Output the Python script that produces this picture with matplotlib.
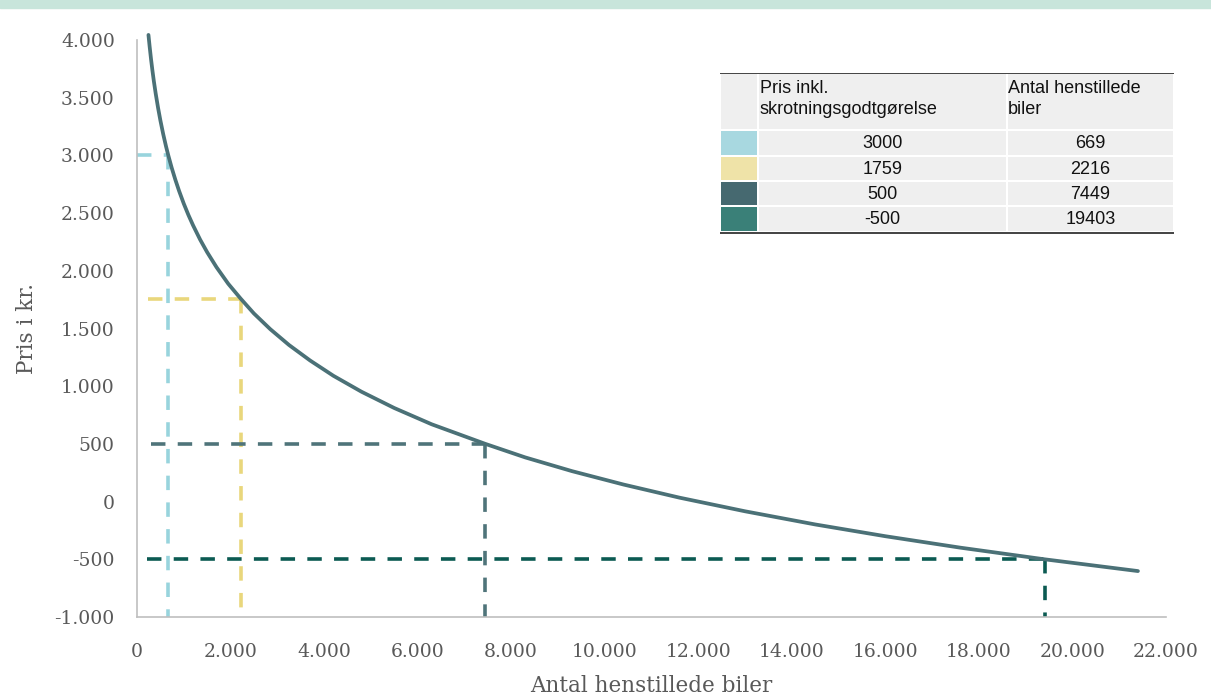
import matplotlib.pyplot as plt
from matplotlib.patches import Rectangle

# Demand curve: antal biler vs. pris (kr.)
curve_x = [245, 270, 300, 330, 360, 400, 450, 500, 560, 620, 669, 740, 820, 900,
           1000, 1100, 1200, 1350, 1500, 1700, 1950, 2216, 2500, 2850, 3250, 3700,
           4200, 4800, 5500, 6300, 7449, 8300, 9300, 10400, 11600, 13000, 14500,
           16000, 17600, 19403, 21400]
curve_y = [4044, 3944, 3834, 3735, 3644, 3535, 3413, 3303, 3185, 3079, 3000, 2895, 2789, 2692,
           2582, 2483, 2393, 2270, 2161, 2031, 1888, 1759, 1630, 1494, 1357, 1223,
           1090, 952, 811, 670, 500, 383, 264, 148, 34, -84, -198,
           -300, -399, -500, -602]

# Marked points (price incl. scrapping premium, number of cars)
prices = [3000, 1759, 500, -500]
counts = [669, 2216, 7449, 19403]
h_start = [0, 235, 300, 215]
line_colors = ['#98d4dd', '#e9d77c', '#4f747a', '#0b5a52']
swatch_colors = ['#a8d8e0', '#efe3a8', '#466970', '#3a8078']

x_ticks = list(range(0, 22001, 2000))
y_ticks = list(range(-1000, 4001, 500))

def dotted(v):
    return f"{v:,}".replace(',', '.')

fig = plt.figure(figsize=(12.11, 6.96), dpi=100)
fig.patches.append(Rectangle((0, 1 - 8 / 696), 1, 8 / 696, transform=fig.transFigure,
                             color='#c8e5db', zorder=0))

ax = fig.add_axes([137 / 1211, (696 - 617) / 696, (1166 - 137) / 1211, (617 - 40) / 696])
ax.set_xlim(0, 22000)
ax.set_ylim(-1000, 4000)

for p, c, s, col in zip(prices, counts, h_start, line_colors):
    ax.plot([s, c], [p, p], color=col, lw=2.6, dashes=(4.0, 3.4),
            dash_capstyle='butt', clip_on=False, zorder=2)
    ax.plot([c, c], [p, -1000], color=col, lw=2.6, dashes=(4.0, 3.4),
            dash_capstyle='butt', clip_on=False, zorder=2)

ax.plot(curve_x, curve_y, color='#4b7177', lw=2.7, clip_on=False, zorder=3,
        solid_capstyle='round', solid_joinstyle='round')

for side in ['top', 'right']:
    ax.spines[side].set_visible(False)
for side in ['left', 'bottom']:
    ax.spines[side].set_color('#bfbfbf')
    ax.spines[side].set_linewidth(1.2)

serif = 'DejaVu Serif'
ax.set_xticks(x_ticks)
ax.set_xticklabels([dotted(v) for v in x_ticks], fontfamily=serif, fontsize=13.5,
                   color='#595959')
ax.set_yticks(y_ticks)
ax.set_yticklabels([dotted(v) for v in y_ticks], fontfamily=serif, fontsize=13.5,
                   color='#595959')
ax.tick_params(axis='x', length=0, pad=19)
ax.tick_params(axis='y', length=0, pad=16)
ax.set_xlabel('Antal henstillede biler', fontfamily=serif, fontsize=15.5, color='#595959',
              labelpad=10)
ax.set_ylabel('Pris i kr.', fontfamily=serif, fontsize=15.5, color='#595959', labelpad=12)

# Table in the upper right corner
tab = fig.add_axes([720 / 1211, (696 - 234) / 696, (1174 - 720) / 1211, (234 - 73) / 696])
tab.set_xlim(720, 1174)
tab.set_ylim(234, 73)
tab.axis('off')
col_edges = [720, 758, 1007, 1174]
row_edges = [73, 130, 156, 181, 206, 232]
for r in range(5):
    for ci in range(3):
        x0, x1 = col_edges[ci], col_edges[ci + 1]
        y0, y1 = row_edges[r], row_edges[r + 1]
        fc = '#efefef'
        if r > 0 and ci == 0:
            fc = swatch_colors[r - 1]
        tab.add_patch(Rectangle((x0 + 1, y0 + 1), x1 - x0 - 2, y1 - y0 - 2, facecolor=fc,
                                edgecolor='none'))
tab.plot([720, 1174], [73, 73], color='#222222', lw=1.2)
tab.plot([720, 1174], [233.5, 233.5], color='#222222', lw=1.2)

sans = 'Liberation Sans'
tab.text(760, 99, 'Pris inkl.\nskrotningsgodtgørelse', ha='left', va='center',
         fontfamily=sans, fontsize=13, color='#111111', linespacing=1.35)
tab.text(1008, 99, 'Antal henstillede\nbiler', ha='left', va='center',
         fontfamily=sans, fontsize=13, color='#111111', linespacing=1.35)
for r, (p, c) in enumerate(zip(prices, counts)):
    yc = (row_edges[r + 1] + row_edges[r + 2]) / 2 + 1
    tab.text((758 + 1007) / 2, yc, str(p), ha='center', va='center', fontfamily=sans,
             fontsize=13, color='#111111')
    tab.text((1007 + 1174) / 2, yc, str(c), ha='center', va='center', fontfamily=sans,
             fontsize=13, color='#111111')

fig.savefig('out.png', dpi=100)
